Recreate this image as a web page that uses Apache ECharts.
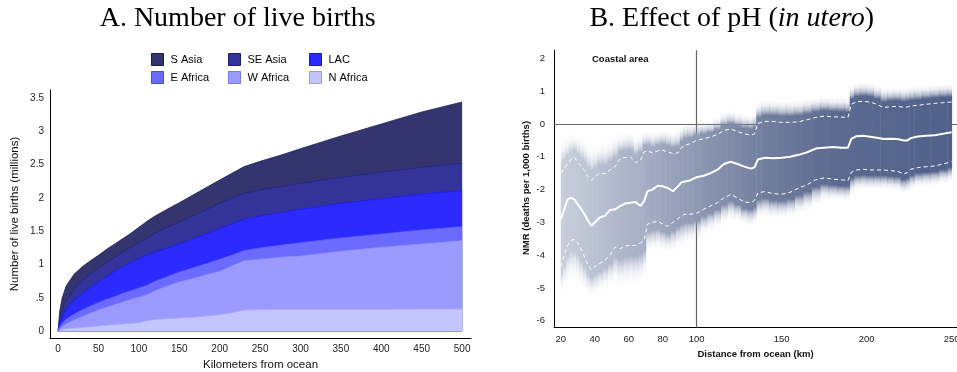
<!DOCTYPE html>
<html><head><meta charset="utf-8">
<script src="https://cdn.jsdelivr.net/npm/echarts@6/dist/echarts.min.js"></script>
<style>html,body{margin:0;padding:0;background:#fff}#c{width:957px;height:372px}</style>
</head><body><div id="c"></div>
<script>
// ---------- Panel A: cumulative (stacked) live births, millions ----------
const kmA = [0,2,5,10,20,30,40,50,60,70,80,90,100,110,120,135,150,175,200,215,230,250,275,300,350,400,450,500];
const cumSAsia   = [0,0.3,0.5,0.68,0.86,0.97,1.06,1.14,1.23,1.31,1.39,1.47,1.56,1.65,1.73,1.83,1.93,2.1,2.27,2.37,2.47,2.55,2.64,2.74,2.93,3.11,3.29,3.44];
const cumSEAsia  = [0,0.2,0.33,0.47,0.64,0.76,0.86,0.95,1.03,1.11,1.19,1.26,1.33,1.40,1.47,1.56,1.64,1.78,1.92,2.0,2.07,2.12,2.17,2.22,2.31,2.39,2.46,2.52];
const cumLAC     = [0,0.12,0.22,0.33,0.47,0.57,0.66,0.74,0.82,0.9,0.97,1.03,1.09,1.14,1.19,1.25,1.31,1.42,1.54,1.61,1.68,1.73,1.78,1.83,1.92,1.99,2.06,2.11];
const cumEAfrica = [0,0.07,0.12,0.18,0.26,0.32,0.38,0.43,0.48,0.52,0.57,0.61,0.65,0.69,0.75,0.82,0.89,0.98,1.08,1.14,1.21,1.25,1.29,1.33,1.40,1.46,1.52,1.57];
const cumWAfrica = [0,0.04,0.07,0.11,0.17,0.22,0.27,0.32,0.36,0.40,0.44,0.48,0.51,0.55,0.61,0.68,0.74,0.82,0.90,0.98,1.06,1.08,1.11,1.13,1.20,1.26,1.31,1.36];
const cumNAfrica = [0,0.02,0.03,0.04,0.05,0.06,0.07,0.08,0.09,0.10,0.11,0.12,0.13,0.16,0.18,0.19,0.20,0.22,0.25,0.28,0.32,0.325,0.33,0.33,0.33,0.33,0.335,0.335];
const regions = ['S Asia','SE Asia','LAC','E Africa','W Africa','N Africa'];
const xTicksA = [0,50,100,150,200,250,300,350,400,450,500];
const yTicksA = [0,0.5,1,1.5,2,2.5,3,3.5];

// ---------- Panel B: NMR effect vs distance ----------
const kmB = [20,22,24,26,28,30,32,34,36,38,40,43,46,49,52,55,58,61,64,67,69,71,74,77,80,83,86,89,91,93,96,100,104,108,112,116,120,124,128,132,134,136,140,145,150,155,160,165,170,175,180,185,189,191,194,198,202,206,210,214,218,222,224,226,230,235,240,245,250];
const midB = [-2.9,-2.6,-2.3,-2.25,-2.3,-2.45,-2.6,-2.75,-2.95,-3.1,-3.0,-2.85,-2.8,-2.62,-2.6,-2.5,-2.42,-2.4,-2.38,-2.5,-2.35,-2.05,-2.0,-1.88,-1.9,-1.95,-2.05,-1.9,-1.78,-1.75,-1.72,-1.62,-1.58,-1.5,-1.4,-1.22,-1.15,-1.22,-1.3,-1.36,-1.32,-1.08,-1.03,-1.04,-1.03,-1.0,-0.94,-0.86,-0.75,-0.72,-0.7,-0.72,-0.72,-0.45,-0.37,-0.36,-0.39,-0.42,-0.46,-0.45,-0.46,-0.5,-0.5,-0.43,-0.38,-0.36,-0.34,-0.3,-0.25];
const hiB  = [-1.5,-1.35,-1.22,-1.08,-1.02,-1.15,-1.3,-1.42,-1.6,-1.72,-1.6,-1.5,-1.52,-1.4,-1.3,-1.05,-1.02,-1.0,-1.18,-1.1,-0.85,-0.82,-0.88,-0.82,-0.8,-0.85,-0.9,-0.88,-0.72,-0.65,-0.6,-0.5,-0.45,-0.4,-0.32,-0.2,-0.15,-0.23,-0.3,-0.34,-0.3,0.02,0.08,0.08,0.05,0.05,0.07,0.13,0.2,0.24,0.22,0.21,0.2,0.6,0.68,0.69,0.67,0.6,0.5,0.53,0.54,0.51,0.52,0.55,0.57,0.6,0.63,0.65,0.67];
const loB  = [-4.35,-4.0,-3.7,-3.55,-3.52,-3.62,-3.82,-4.05,-4.3,-4.45,-4.35,-4.25,-4.15,-4.0,-3.75,-3.8,-3.72,-3.7,-3.7,-3.62,-3.55,-3.05,-3.0,-2.97,-3.05,-3.12,-3.0,-2.88,-2.8,-2.75,-2.75,-2.72,-2.6,-2.5,-2.4,-2.25,-2.15,-2.25,-2.38,-2.4,-2.32,-2.1,-2.06,-2.12,-2.14,-2.08,-1.95,-1.85,-1.7,-1.64,-1.68,-1.7,-1.72,-1.47,-1.4,-1.38,-1.4,-1.4,-1.4,-1.42,-1.44,-1.52,-1.48,-1.38,-1.33,-1.3,-1.28,-1.22,-1.15];
const outHiB = [-0.5,-0.45,-0.35,-0.3,-0.3,-0.35,-0.4,-0.5,-0.65,-0.75,-0.7,-0.6,-0.55,-0.5,-0.35,-0.3,-0.25,-0.25,-0.35,-0.3,-0.2,-0.2,-0.25,-0.2,-0.15,-0.2,-0.25,-0.2,-0.05,0.05,0.05,0.05,0.08,0.1,0.2,0.35,0.4,0.35,0.3,0.28,0.35,0.65,0.72,0.72,0.7,0.7,0.72,0.76,0.8,0.82,0.8,0.8,0.78,1.15,1.25,1.27,1.25,1.18,1.1,1.12,1.12,1.1,1.12,1.14,1.15,1.18,1.2,1.22,1.22];
const outLoB = [-5.1,-5.0,-4.8,-4.7,-4.75,-4.85,-5.0,-5.1,-5.2,-5.25,-5.2,-5.1,-5.0,-4.9,-4.85,-4.95,-4.9,-4.85,-4.85,-4.8,-4.6,-3.9,-3.85,-3.8,-3.85,-3.9,-3.85,-3.75,-3.7,-3.65,-3.6,-3.5,-3.35,-3.25,-3.15,-3.0,-2.9,-2.95,-3.05,-3.1,-3.05,-2.85,-2.8,-2.85,-2.85,-2.8,-2.7,-2.6,-2.45,-2.3,-2.3,-2.32,-2.32,-2.1,-2.0,-1.98,-1.98,-1.98,-1.98,-2.0,-2.02,-2.1,-2.05,-1.98,-1.9,-1.88,-1.86,-1.8,-1.75];
const xTicksB = [20,40,60,80,100,150,200,250];
const yTicksB = [-6,-5,-4,-3,-2,-1,0,1,2];

// ---------- styles ----------
const SANS = '"Liberation Sans", Arial, Helvetica, sans-serif';
const SERIF = '"Liberation Serif", "Times New Roman", serif';
const fills   = ['#34346f','#333399','#2b2bff','#6b6bff','#9a9aff','#c4c4ff'];
const edges   = ['#232358','#22228a','#1c1cee','#5f5ff4','#8f8ff6','#a9a9f2'];
const borders = ['#1c1c48','#1f1f70','#1818c8','#4a4ae0','#7a7ae8','#9a9ae6'];
const cumA = [cumSAsia,cumSEAsia,cumLAC,cumEAfrica,cumWAfrica,cumNAfrica];

const bandStops = [[20,[200,206,219]],[60,[172,180,200]],[100,[141,152,178]],[140,[113,126,158]],[180,[93,107,145]],[250,[80,96,136]]];
function bandColor(k){
  for (let j=0;j<bandStops.length-1;j++){
    const a=bandStops[j], b=bandStops[j+1];
    if (k<=b[0]){ const t=Math.max(0,(k-a[0])/(b[0]-a[0])); return a[1].map((v,q)=>Math.round(v+(b[1][q]-v)*t)); }
  }
  return bandStops[bandStops.length-1][1];
}

function legend(left, idx){
  return {left, top:53, orient:'vertical', itemGap:5, itemWidth:12, itemHeight:12, icon:'rect',
    selectedMode:false, padding:0,
    textStyle:{fontSize:11, color:'#000', fontFamily:SANS, padding:[0,0,0,2]},
    data: idx.map(i=>({name:regions[i], icon:'rect', itemStyle:{color:fills[i], borderColor:borders[i], borderWidth:1}}))};
}

const seriesA = regions.map((name,i)=>({
  name, type:'line', xAxisIndex:0, yAxisIndex:0, symbol:'none', smooth:false,
  data: kmA.map((k,j)=>[k, cumA[i][j]]),
  itemStyle:{color:fills[i]},
  lineStyle:{color:edges[i], width:0.8},
  areaStyle:{color:fills[i], opacity:1},
  z:2
}));

const bandData = kmB.map((k,i)=>[k, loB[i], hiB[i], outLoB[i], outHiB[i]]);

const seriesB = [
  { type:'custom', name:'band', xAxisIndex:1, yAxisIndex:1, z:2, silent:true,
    data: bandData, encode:{x:0, y:[1,2,3,4]},
    renderItem: function(params, api){
      const i = params.dataIndex, n = kmB.length, k = kmB[i];
      const kl = i===0 ? k : (kmB[i-1]+k)/2;
      const kr = i===n-1 ? k : (k+kmB[i+1])/2;
      const xl = api.coord([kl,0])[0], xr = api.coord([kr,0])[0];
      const yOH = api.coord([k,outHiB[i]])[1];
      const yH  = api.coord([k,hiB[i]])[1];
      const yL  = api.coord([k,loB[i]])[1];
      const yOL = api.coord([k,outLoB[i]])[1];
      const H = yOL - yOH;
      const ft = (yH - yOH)/H, fb = (yOL - yL)/H;
      const c = bandColor(k);
      const col = a => 'rgba('+c[0]+','+c[1]+','+c[2]+','+a+')';
      const stops = [
        {offset:0, color:col(0)},
        {offset:ft*0.25, color:col(0.12)},
        {offset:ft*0.5, color:col(0.45)},
        {offset:ft*0.72, color:col(1)},
        {offset:1-fb*0.72, color:col(1)},
        {offset:1-fb*0.5, color:col(0.45)},
        {offset:1-fb*0.25, color:col(0.12)},
        {offset:1, color:col(0)}
      ];
      return {type:'rect', shape:{x:xl, y:yOH, width:xr-xl+0.5, height:H},
        style:{fill:new echarts.graphic.LinearGradient(0,0,0,1,stops)}};
    }
  },
  { type:'line', name:'upper', xAxisIndex:1, yAxisIndex:1, symbol:'none', z:3, silent:true,
    data: kmB.map((k,i)=>[k,hiB[i]]), lineStyle:{color:'#ffffff', width:1, type:[4,3]} },
  { type:'line', name:'lower', xAxisIndex:1, yAxisIndex:1, symbol:'none', z:3, silent:true,
    data: kmB.map((k,i)=>[k,loB[i]]), lineStyle:{color:'#ffffff', width:1, type:[4,3]} },
  { type:'line', name:'effect', xAxisIndex:1, yAxisIndex:1, symbol:'none', z:3, silent:true,
    data: kmB.map((k,i)=>[k,midB[i]]), lineStyle:{color:'#ffffff', width:2},
    markLine:{ z:1, silent:true, symbol:'none', label:{show:false},
      lineStyle:{color:'#666', width:1.2, type:'solid'},
      data:[{yAxis:0},{xAxis:100}] } }
];

const fmtA = v => v===0 ? '0' : (v<1 ? String(v).replace(/^0/,'') : String(v));

const option = {
  animation:false,
  backgroundColor:'#fff',
  legend:[legend(151,[0,3]), legend(228,[1,4]), legend(309,[2,5])],
  grid:[
    {left:50, top:90, width:421, height:248, outerBoundsMode:'none', containLabel:false},
    {left:554, top:50.2, width:418, height:277.2, outerBoundsMode:'none', containLabel:false}
  ],
  xAxis:[
    {type:'value', gridIndex:0, min:-10, max:511,
      axisLine:{onZero:false, lineStyle:{color:'#000', width:1}},
      axisTick:{show:false}, splitLine:{show:false},
      axisLabel:{customValues:xTicksA, margin:6, fontSize:10, color:'#222', fontFamily:SANS}},
    {type:'value', gridIndex:1, min:16, max:262,
      axisLine:{onZero:false, lineStyle:{color:'#000', width:1}},
      axisTick:{show:false}, splitLine:{show:false},
      axisLabel:{customValues:xTicksB, margin:7, fontSize:9.5, color:'#222', fontFamily:SANS}}
  ],
  yAxis:[
    {type:'value', gridIndex:0, min:-0.1, max:3.62,
      axisLine:{show:true, onZero:false, lineStyle:{color:'#000', width:1}},
      axisTick:{show:false}, splitLine:{show:false},
      axisLabel:{customValues:yTicksA, formatter:fmtA, margin:6, fontSize:10, color:'#222', fontFamily:SANS}},
    {type:'value', gridIndex:1, min:-6.2, max:2.25,
      axisLine:{show:true, onZero:false, lineStyle:{color:'#000', width:1}},
      axisTick:{show:false}, splitLine:{show:false},
      axisLabel:{customValues:yTicksB, margin:9, fontSize:9.5, color:'#222', fontFamily:SANS}}
  ],
  graphic:[
    {type:'text', x:237.7, y:18.5, silent:true, style:{text:'A. Number of live births', fontSize:28, fontFamily:SERIF, fill:'#000', textAlign:'center', textVerticalAlign:'middle'}},
    {type:'text', x:731.7, y:18.5, silent:true, style:{text:'{n|B. Effect of pH (}{i|in utero}{n|)}', fontSize:28, fontFamily:SERIF, fill:'#000', textAlign:'center', textVerticalAlign:'middle',
      rich:{n:{fontSize:28, fontFamily:SERIF, fill:'#000'}, i:{fontSize:28, fontFamily:SERIF, fontStyle:'italic', fill:'#000'}}}},
    {type:'text', x:15, y:214, rotation:Math.PI/2, silent:true, style:{text:'Number of live births (millions)', fontSize:11.5, fontFamily:SANS, fill:'#111', textAlign:'center', textVerticalAlign:'middle'}},
    {type:'text', x:260.5, y:365, silent:true, style:{text:'Kilometers from ocean', fontSize:11.5, fontFamily:SANS, fill:'#111', textAlign:'center', textVerticalAlign:'middle'}},
    {type:'text', x:526.7, y:188, rotation:Math.PI/2, silent:true, style:{text:'NMR (deaths per 1,000 births)', fontSize:9.5, fontWeight:'bold', fontFamily:SANS, fill:'#111', textAlign:'center', textVerticalAlign:'middle'}},
    {type:'text', x:755.5, y:354, silent:true, style:{text:'Distance from ocean (km)', fontSize:9.5, fontWeight:'bold', fontFamily:SANS, fill:'#111', textAlign:'center', textVerticalAlign:'middle'}},
    {type:'text', x:592, y:59, silent:true, style:{text:'Coastal area', fontSize:9.5, fontWeight:'bold', fontFamily:SANS, fill:'#111', textAlign:'left', textVerticalAlign:'middle'}}
  ],
  series: seriesA.concat(seriesB)
};

const chart = echarts.init(document.getElementById('c'), null, {renderer:'canvas'});
chart.setOption(option);
</script>
</body></html>
